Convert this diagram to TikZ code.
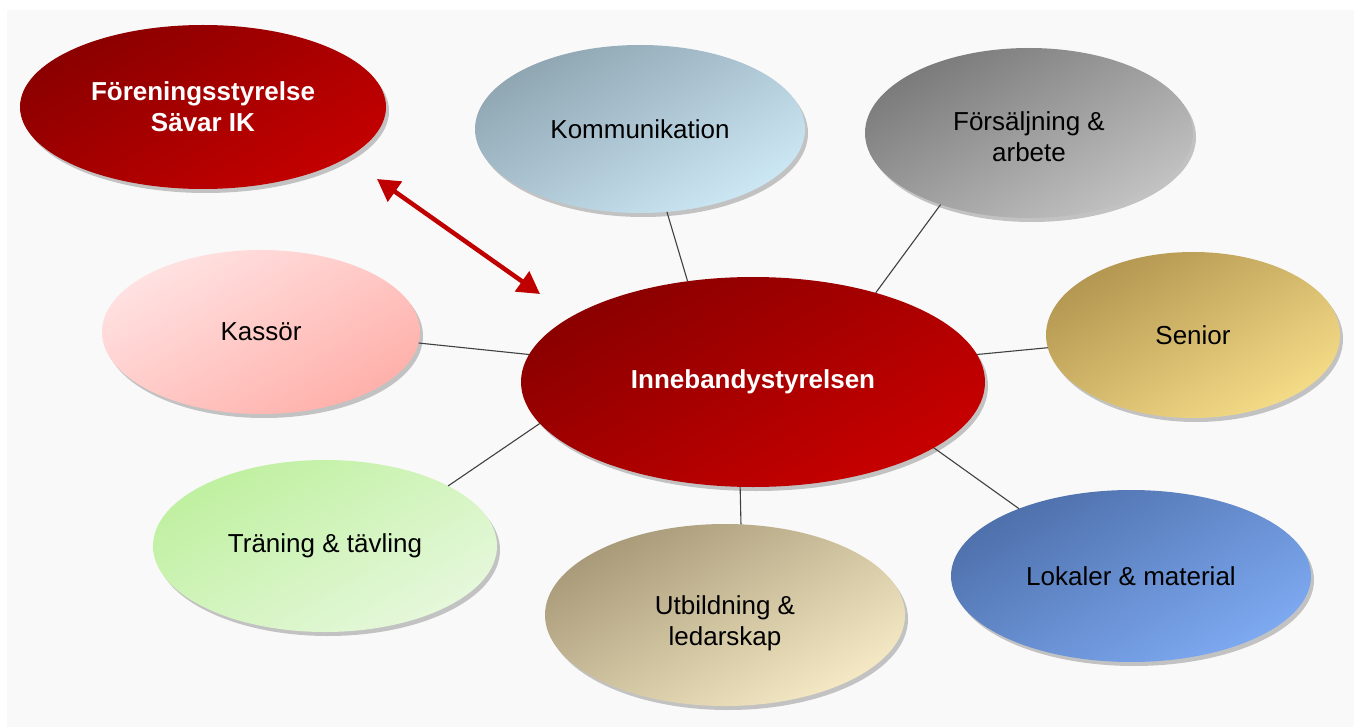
\documentclass[tikz,border=0pt]{standalone}
\usepackage{fontspec}
\setmainfont{Liberation Sans}
\usetikzlibrary{shapes.geometric,shadows,arrows.meta}
\definecolor{bgray}{HTML}{F9F9F9}
\definecolor{arrred}{HTML}{C00000}
\definecolor{linegray}{HTML}{404040}
\definecolor{fsA}{HTML}{8A0000}\definecolor{fsB}{HTML}{C40000}
\definecolor{koA}{HTML}{8FA5B2}\definecolor{koB}{HTML}{CDE8F5}
\definecolor{foA}{HTML}{7A7A7A}\definecolor{foB}{HTML}{C2C2C2}
\definecolor{kaA}{HTML}{FFE2E2}\definecolor{kaB}{HTML}{FFB0AA}
\definecolor{seA}{HTML}{B39650}\definecolor{seB}{HTML}{F5DC88}
\definecolor{trA}{HTML}{BFF0A0}\definecolor{trB}{HTML}{E6F8DC}
\definecolor{utA}{HTML}{A89A78}\definecolor{utB}{HTML}{F6EAC6}
\definecolor{loA}{HTML}{4E70AB}\definecolor{loB}{HTML}{7EAAF2}
\definecolor{inA}{HTML}{8A0000}\definecolor{inB}{HTML}{C80000}
\tikzset{
  bubble/.style={ellipse, inner sep=0pt, outer sep=0pt, align=center,
    font=\fontsize{26}{31}\selectfont,
    drop shadow={shadow xshift=3pt, shadow yshift=-4pt, opacity=0.22, fill=black}},
  grad/.style n args={2}{top color=#1, bottom color=#2, shading angle=30},
  conn/.style={draw=linegray, line width=1.1pt},
  lbl/.style={align=center, font=\fontsize{26}{31}\selectfont},
}
\begin{document}
\begin{tikzpicture}[x=1pt,y=-1pt]
\fill[white] (0,0) rectangle (1354,727);
\fill[bgray] (7,10) rectangle (1354,727);
\useasboundingbox (0,0) rectangle (1354,727);

\node[bubble, grad={fsA}{fsB}, minimum width=366pt, minimum height=164pt,
  text=white, font=\fontsize{26}{31}\selectfont\bfseries] (fs) at (203,107) {Föreningsstyrelse\\Sävar IK};
\node[bubble, grad={koA}{koB}, minimum width=330pt, minimum height=168pt] (komm) at (640,129) {Kommunikation};
\node[bubble, grad={foA}{foB}, minimum width=328pt, minimum height=170pt,
  label={[lbl, yshift=-4pt]center:Försäljning \&\\arbete}] (fors) at (1029,133) {};
\node[bubble, grad={kaA}{kaB}, minimum width=318pt, minimum height=164pt] (kass) at (261,332) {Kassör};
\node[bubble, grad={seA}{seB}, minimum width=294pt, minimum height=166pt] (sen) at (1193,335) {Senior};
\node[bubble, grad={trA}{trB}, minimum width=344pt, minimum height=172pt] (tran) at (325,546) {Träning \& tävling};
\node[bubble, grad={utA}{utB}, minimum width=360pt, minimum height=182pt,
  label={[lbl, yshift=-8pt]center:Utbildning \&\\ledarskap}] (utb) at (725,615) {};
\node[bubble, grad={loA}{loB}, minimum width=360pt, minimum height=172pt] (lok) at (1131,576) {Lokaler \& material};
\node[bubble, grad={inA}{inB}, minimum width=464pt, minimum height=210pt,
  text=white, font=\fontsize{26}{31}\selectfont\bfseries] (inn) at (753,382) {Innebandystyrelsen};

\draw[conn] (inn.123.3) -- (komm.288);
\draw[conn] (inn.36) -- (fors.219.2);
\draw[conn] (inn.173.2) -- (kass.-4.7);
\draw[conn] (inn.7) -- (sen.185.9);
\draw[conn] (inn.191.1) -- (tran.26.6);
\draw[conn] (inn.263.5) -- (utb.80);
\draw[conn] (inn.340.5) -- (lok.149.9);

\coordinate (aS) at (377,179);
\coordinate (aE) at (540,294);
\draw[arrred, line width=4.5pt, {Triangle[length=22pt,width=24pt]}-{Triangle[length=22pt,width=24pt]}] (aS) -- (aE);
\end{tikzpicture}
\end{document}
